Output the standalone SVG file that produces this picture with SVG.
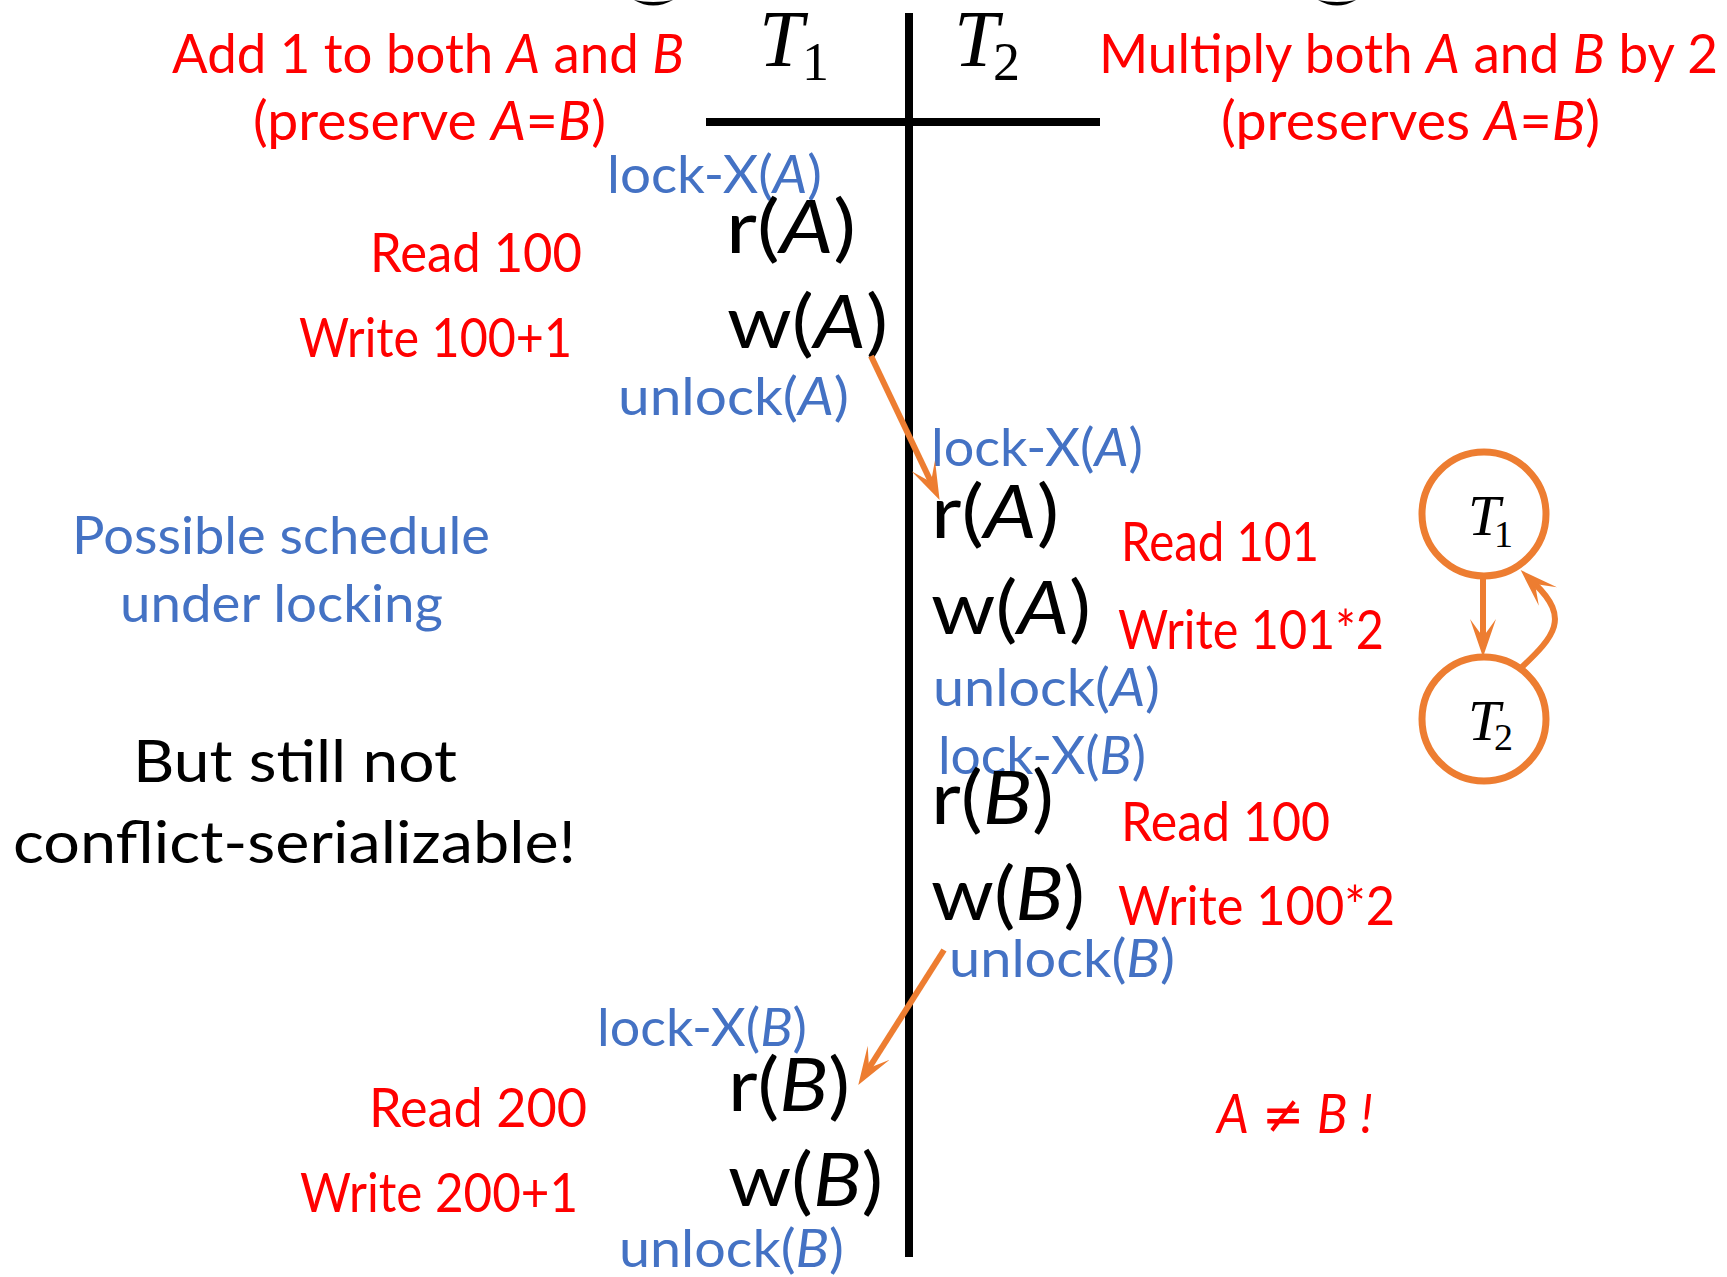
<svg xmlns="http://www.w3.org/2000/svg" width="1727" height="1277" viewBox="0 0 1727 1277">
<style>
.t{font-family:Lato,"Open Sans","Liberation Sans",sans-serif}
.red{fill:#FF0000;font-size:54px}
.blue{fill:#4472C4;font-size:52px}
.blk{fill:#000;font-size:58px}
.op{fill:#000;font-size:74px}
.i{font-style:italic}
.m{font-family:"Liberation Serif","DejaVu Serif",serif;fill:#000}
.conn{stroke:#ED7D31;stroke-width:6;fill:none}
.node{fill:#fff;stroke:#ED7D31;stroke-width:7}
.axis{stroke:#000;stroke-width:8;fill:none}
</style>
<defs>
<marker id="ah" markerUnits="userSpaceOnUse" viewBox="0 0 40 26" markerWidth="40" markerHeight="26" refX="18" refY="13" orient="auto">
<path d="M38,13 L0,0 L18,13 L0,26 Z" fill="#ED7D31"/>
</marker>
</defs>
<rect width="1727" height="1277" fill="#fff"/>

<g id="cut-top">
<path d="M634,0 Q653,11 673,0 Q653,4 634,0 Z" fill="#000"/>
<path d="M1318,0 Q1337,11 1356,0 Q1337,4 1318,0 Z" fill="#000"/>
</g>

<g id="axes">
<line class="axis" x1="909" y1="13" x2="909" y2="1257"/>
<line class="axis" x1="706" y1="122" x2="1100" y2="122"/>
</g>

<g id="header-T1">
<text class="m" x="759" y="66" font-size="80" font-style="italic">T</text>
<text class="m" x="802" y="80" font-size="54">1</text>
</g>
<g id="header-T2">
<text class="m" x="954" y="66" font-size="80" font-style="italic">T</text>
<text class="m" x="993" y="80" font-size="54">2</text>
</g>

<g id="desc-T1">
<text class="t red" x="172" y="73" textLength="512" lengthAdjust="spacingAndGlyphs">Add 1 to both <tspan class="i">A</tspan> and <tspan class="i">B</tspan></text>
<text class="t red" x="253" y="140" textLength="353" lengthAdjust="spacingAndGlyphs">(preserve <tspan class="i">A</tspan>=<tspan class="i">B</tspan>)</text>
</g>
<g id="desc-T2">
<text class="t red" x="1099" y="73" textLength="619" lengthAdjust="spacingAndGlyphs">Multiply both <tspan class="i">A</tspan> and <tspan class="i">B</tspan> by 2</text>
<text class="t red" x="1221" y="140" textLength="379" lengthAdjust="spacingAndGlyphs">(preserves <tspan class="i">A</tspan>=<tspan class="i">B</tspan>)</text>
</g>

<g id="t1-step1">
<text class="t blue" x="607" y="193" textLength="215" lengthAdjust="spacingAndGlyphs">lock-X(<tspan class="i">A</tspan>)</text>
<text class="t op" x="726" y="253" textLength="130" lengthAdjust="spacingAndGlyphs">r(<tspan class="i">A</tspan>)</text>
<text class="t red" x="370" y="272" textLength="212" lengthAdjust="spacingAndGlyphs">Read 100</text>
<text class="t op" x="727" y="348" textLength="161" lengthAdjust="spacingAndGlyphs">w(<tspan class="i">A</tspan>)</text>
<text class="t red" x="299" y="357" textLength="273" lengthAdjust="spacingAndGlyphs">Write 100+1</text>
<text class="t blue" x="618" y="415" textLength="231" lengthAdjust="spacingAndGlyphs">unlock(<tspan class="i">A</tspan>)</text>
</g>

<g id="t2-step1">
<text class="t blue" x="931" y="466" textLength="212" lengthAdjust="spacingAndGlyphs">lock-X(<tspan class="i">A</tspan>)</text>
<text class="t op" x="931" y="538" textLength="128" lengthAdjust="spacingAndGlyphs">r(<tspan class="i">A</tspan>)</text>
<text class="t red" x="1121" y="561" textLength="198" lengthAdjust="spacingAndGlyphs">Read 101</text>
<text class="t op" x="931" y="634" textLength="160" lengthAdjust="spacingAndGlyphs">w(<tspan class="i">A</tspan>)</text>
<text class="t red" x="1118" y="649" textLength="266" lengthAdjust="spacingAndGlyphs">Write 101*2</text>
<text class="t blue" x="933" y="706" textLength="227" lengthAdjust="spacingAndGlyphs">unlock(<tspan class="i">A</tspan>)</text>
</g>

<g id="t2-step2">
<text class="t blue" x="938" y="774" textLength="208" lengthAdjust="spacingAndGlyphs">lock-X(<tspan class="i">B</tspan>)</text>
<text class="t op" x="931" y="824" textLength="123" lengthAdjust="spacingAndGlyphs">r(<tspan class="i">B</tspan>)</text>
<text class="t red" x="1121" y="841" textLength="209" lengthAdjust="spacingAndGlyphs">Read 100</text>
<text class="t op" x="931" y="920" textLength="154" lengthAdjust="spacingAndGlyphs">w(<tspan class="i">B</tspan>)</text>
<text class="t red" x="1118" y="925" textLength="277" lengthAdjust="spacingAndGlyphs">Write 100*2</text>
<text class="t blue" x="949" y="977" textLength="226" lengthAdjust="spacingAndGlyphs">unlock(<tspan class="i">B</tspan>)</text>
</g>

<g id="t1-step2">
<text class="t blue" x="597" y="1046" textLength="210" lengthAdjust="spacingAndGlyphs">lock-X(<tspan class="i">B</tspan>)</text>
<text class="t op" x="728" y="1111" textLength="122" lengthAdjust="spacingAndGlyphs">r(<tspan class="i">B</tspan>)</text>
<text class="t red" x="369" y="1127" textLength="218" lengthAdjust="spacingAndGlyphs">Read 200</text>
<text class="t op" x="728" y="1206" textLength="155" lengthAdjust="spacingAndGlyphs">w(<tspan class="i">B</tspan>)</text>
<text class="t red" x="300" y="1212" textLength="278" lengthAdjust="spacingAndGlyphs">Write 200+1</text>
<text class="t blue" x="619" y="1267" textLength="225" lengthAdjust="spacingAndGlyphs">unlock(<tspan class="i">B</tspan>)</text>
</g>

<g id="caption">
<text class="t blue" x="72" y="554" textLength="418" lengthAdjust="spacingAndGlyphs">Possible schedule</text>
<text class="t blue" x="120" y="622" textLength="323" lengthAdjust="spacingAndGlyphs">under locking</text>
<text class="t blk" x="133" y="782" textLength="324" lengthAdjust="spacingAndGlyphs">But still not</text>
<text class="t blk" x="13" y="863" textLength="563" lengthAdjust="spacingAndGlyphs">conflict-serializable!</text>
</g>

<g id="result">
<text class="t red" x="1217" y="1133" textLength="156" lengthAdjust="spacingAndGlyphs"><tspan class="i">A</tspan> <tspan font-family="'DejaVu Sans',sans-serif" font-style="italic">≠</tspan> <tspan class="i">B</tspan> <tspan class="i">!</tspan></text>
</g>

<g id="node-T1">
<circle class="node" cx="1484" cy="514" r="62"/>
<text class="m" x="1468" y="535" font-size="58" font-style="italic">T</text>
<text class="m" x="1494" y="547" font-size="38">1</text>
</g>
<g id="node-T2">
<circle class="node" cx="1484" cy="719" r="62"/>
<text class="m" x="1468" y="740" font-size="58" font-style="italic">T</text>
<text class="m" x="1494" y="750" font-size="38">2</text>
</g>

<g id="connectors">
<line class="conn" x1="871" y1="356" x2="931" y2="482" marker-end="url(#ah)"/>
<line class="conn" x1="944" y1="950" x2="869" y2="1068" marker-end="url(#ah)"/>
<line class="conn" x1="1483" y1="578" x2="1483" y2="637" marker-end="url(#ah)"/>
<path class="conn" d="M1521,668 C1555,636 1570,618 1535,584" marker-end="url(#ah)"/>
</g>
</svg>
